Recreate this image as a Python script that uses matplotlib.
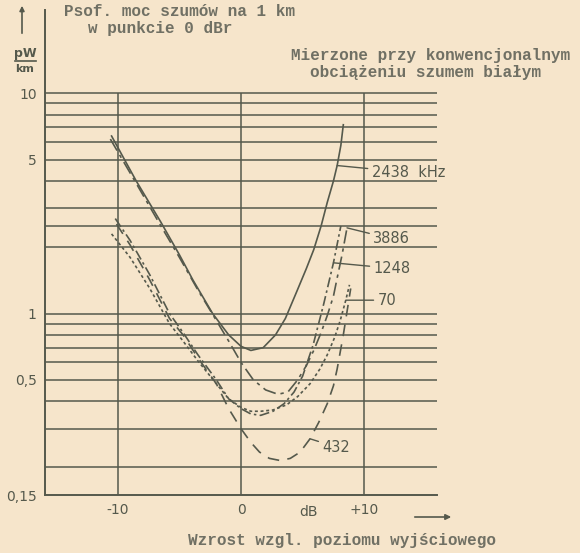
import matplotlib
matplotlib.use("Agg")
import matplotlib.pyplot as plt

# Poziom wyjściowy [dB] i psofometryczna moc szumów [pW/km]
db_2438 = [-10.5, -8.5, -6.5, -5.0, -3.9, -2.3, -1.0, 0.0, 0.8, 1.8, 2.8, 3.6, 4.5, 5.3, 5.9, 6.5, 7.0, 7.5, 7.8, 8.1, 8.3]
pw_2438 = [6.4, 4.0, 2.6, 1.85, 1.42, 1.0, 0.8, 0.71, 0.68, 0.7, 0.8, 0.95, 1.25, 1.6, 1.95, 2.5, 3.2, 4.0, 4.7, 5.8, 7.2]

db_3886 = [-10.6, -8.5, -6.5, -5.0, -3.5, -2.0, -1.0, 0.0, 1.0, 2.0, 3.0, 3.8, 4.6, 5.3, 5.9, 6.5, 7.0, 7.5, 7.8, 8.2, 8.6]
pw_3886 = [6.2, 3.9, 2.5, 1.8, 1.28, 0.93, 0.75, 0.6, 0.5, 0.45, 0.43, 0.44, 0.5, 0.58, 0.68, 0.82, 0.98, 1.2, 1.45, 1.85, 2.45]

db_1248 = [-10.2, -9.0, -7.4, -5.8, -4.7, -3.5, -2.0, -1.0, 0.0, 0.8, 1.6, 2.6, 3.5, 4.3, 5.0, 5.85, 6.7, 7.5, 8.1]
pw_1248 = [2.7, 2.15, 1.5, 1.0, 0.82, 0.65, 0.5, 0.41, 0.37, 0.35, 0.345, 0.36, 0.39, 0.44, 0.52, 0.72, 1.1, 1.7, 2.5]

db_70 = [-10.5, -9.0, -7.4, -5.8, -4.7, -3.5, -2.0, -1.0, 0.0, 0.8, 1.6, 2.6, 3.7, 4.6, 5.6, 6.4, 7.0, 7.6, 8.05, 8.5, 8.8]
pw_70 = [2.3, 1.8, 1.3, 0.9, 0.75, 0.61, 0.48, 0.41, 0.375, 0.36, 0.36, 0.365, 0.385, 0.42, 0.48, 0.56, 0.65, 0.78, 0.93, 1.15, 1.35]

db_432 = [-10.1, -9.0, -7.4, -5.8, -4.7, -3.5, -2.0, -1.0, 0.0, 0.8, 1.5, 2.3, 3.2, 4.0, 4.8, 5.6, 6.3, 7.0, 7.5, 7.8, 8.3, 8.6, 8.9]
pw_432 = [2.55, 2.05, 1.42, 0.95, 0.8, 0.63, 0.48, 0.37, 0.3, 0.26, 0.235, 0.22, 0.215, 0.22, 0.235, 0.27, 0.32, 0.39, 0.47, 0.56, 0.8, 1.02, 1.3]

grid_y = [10, 9, 8, 7, 6, 5, 4, 3, 2.5, 2, 1, 0.9, 0.8, 0.7, 0.6, 0.5, 0.4, 0.3, 0.2]
grid_x = [-10, 0, 10]
y_ticks = [10, 5, 1, 0.5, 0.15]
y_tick_labels = ["10", "5", "1", "0,5", "0,15"]
x_ticks = [-10, 0, 10]
x_tick_labels = ["-10", "0", "+10"]

paper = "#f6e5cb"
ink = "#55594c"
typed = "#707064"
mono = "Liberation Mono"
sans = ["Liberation Sans Narrow", "DejaVu Sans"]

W, H = 580, 553
fig = plt.figure(figsize=(W / 100, H / 100), dpi=100, facecolor=paper)
ax = fig.add_axes([45 / W, 1 - 495 / H, 392 / W, 485 / H])
ax.set_facecolor(paper)
ax.set_yscale("log")
ax.set_xlim(-15.9, 15.9)
ax.set_ylim(0.15, 23.9)

for v in grid_y:
    ax.axhline(v, color=ink, lw=1.1)
ax.vlines(grid_x, 0.15, 10, color=ink, lw=1.1)

ax.plot(db_2438, pw_2438, color=ink, lw=1.2, ls="-")
ax.plot(db_3886, pw_3886, color=ink, lw=1.2, ls=(0, (8, 3, 2, 3)))
ax.plot(db_1248, pw_1248, color=ink, lw=1.2, ls=(0, (6, 2, 1.5, 2)))
ax.plot(db_70, pw_70, color=ink, lw=1.2, ls=(0, (1.8, 1.6)))
ax.plot(db_432, pw_432, color=ink, lw=1.2, ls=(0, (7, 5)))

# opisy krzywych
labels = [
    ("2438  kHz", db_2438[18], pw_2438[18], (25, -5)),
    ("3886", db_3886[20], pw_3886[20], (19, -8)),
    ("1248", db_1248[17], pw_1248[17], (29, -4)),
    ("70", db_70[19], pw_70[19], (23, 0)),
    ("432", db_432[15], pw_432[15], (9, -6)),
]
for txt, x, y, off in labels:
    ax.annotate(txt, xy=(x, y), xytext=off, textcoords="offset points",
                ha="left", va="center", fontsize=10.5, color=ink, family=sans,
                arrowprops=dict(arrowstyle="-", color=ink, lw=1.0,
                                shrinkA=1, shrinkB=0))

ax.minorticks_off()
ax.set_yticks(y_ticks)
ax.set_yticklabels(y_tick_labels)
ax.set_xticks(x_ticks)
ax.set_xticklabels(x_tick_labels)
ax.tick_params(length=0, labelsize=10, colors=ink, pad=6)
for t in ax.get_xticklabels() + ax.get_yticklabels():
    t.set_family(sans)
for s in ["top", "right"]:
    ax.spines[s].set_visible(False)
for s in ["left", "bottom"]:
    ax.spines[s].set_color(ink)
    ax.spines[s].set_linewidth(1.4)

def ftext(x, y, s, **kw):
    fig.text(x / W, 1 - y / H, s, **kw)

ftext(308, 512, "dB", fontsize=10, color=ink, family=sans, ha="center", va="center")
fig.add_artist(matplotlib.patches.FancyArrowPatch(
    (412 / W, 1 - 517 / H), (454 / W, 1 - 517 / H), transform=fig.transFigure,
    arrowstyle="-|>", mutation_scale=8, color=ink, lw=1.2))
fig.add_artist(matplotlib.patches.FancyArrowPatch(
    (22 / W, 1 - 36 / H), (22 / W, 1 - 3 / H), transform=fig.transFigure,
    arrowstyle="-|>", mutation_scale=7, color=ink, lw=1.2))

ftext(25, 53, "pW", fontsize=9, color=ink, family=sans, ha="center", va="center", weight="bold")
fig.add_artist(plt.Line2D([15 / W, 36 / W], [1 - 61 / H, 1 - 61 / H], color=ink, lw=1.2))
ftext(25, 69, "km", fontsize=8, color=ink, family=sans, ha="center", va="center", weight="bold")

tkw = dict(fontsize=11.5, color=typed, family=mono, weight="bold", va="center")
ftext(64, 12, "Psof. moc szumów na 1 km", ha="left", **tkw)
ftext(88, 28, "w punkcie 0 dBr", ha="left", **tkw)
ftext(431, 55, "Mierzone przy konwencjonalnym", ha="center", **tkw)
ftext(425, 72, "obciążeniu szumem białym", ha="center", **tkw)
ftext(342, 541, "Wzrost wzgl. poziomu wyjściowego", ha="center", **tkw)

fig.savefig("out.png", dpi=100, facecolor=paper)
